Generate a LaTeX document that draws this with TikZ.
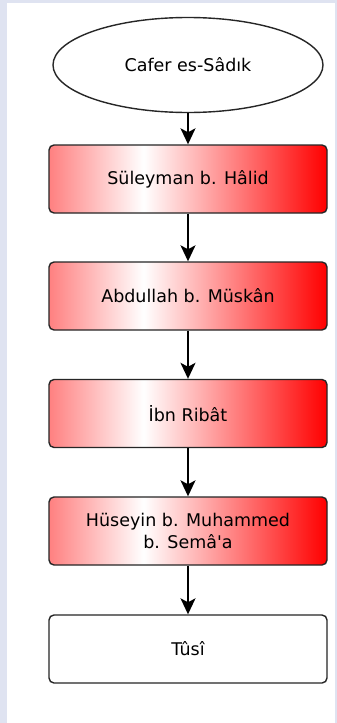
\documentclass[tikz,border=0pt]{standalone}
\usepackage{fontspec}
\setmainfont{DejaVu Sans}[Ligatures=TeXOff]
\usetikzlibrary{arrows.meta,shapes.geometric}
\definecolor{bgl}{HTML}{DFE3F1}
\definecolor{lred}{RGB}{255,128,128}
\definecolor{bord}{HTML}{262626}
\pgfdeclarehorizontalshading{redgrad}{100bp}{color(0bp)=(lred); color(25bp)=(lred); color(42bp)=(white); color(75bp)=(red); color(100bp)=(red)}
\tikzset{
  txt/.style={font=\fontsize{17.5}{22.5}\selectfont},
  stepbox/.style={draw=bord, line width=1.4pt, rounded corners=5pt, minimum width=278pt, minimum height=68pt, inner sep=0pt, align=center, txt},
  redbox/.style={stepbox, shading=redgrad},
  plainbox/.style={stepbox, fill=white},
  startnode/.style={draw=bord, line width=1.4pt, ellipse, minimum width=270pt, minimum height=95pt, inner sep=0pt, fill=white, txt},
  conn/.style={draw=black, line width=1.7pt, -{Stealth[length=16pt,width=15pt,inset=4pt]}}
}
\begin{document}
\begin{tikzpicture}[x=1pt,y=-1pt]
\fill[bgl] (0,0) rectangle (337,723);
\fill[white] (7,3) rectangle (335,723);
\useasboundingbox (0,0) rectangle (337,723);
\node[startnode] (n0) at (188,65) {Cafer es-Sâdık};
\node[redbox] (n1) at (188,179) {Süleyman b. Hâlid};
\node[redbox] (n2) at (188,296) {Abdullah b. Müskân};
\node[redbox] (n3) at (188,413.5) {İbn Ribât};
\node[redbox] (n4) at (188,531) {Hüseyin b. Muhammed\\b. Semâ'a};
\node[plainbox] (n5) at (188,649) {Tûsî};
\draw[conn] (n0) -- (n1);
\draw[conn] (n1) -- (n2);
\draw[conn] (n2) -- (n3);
\draw[conn] (n3) -- (n4);
\draw[conn] (n4) -- (n5);
\end{tikzpicture}
\end{document}
